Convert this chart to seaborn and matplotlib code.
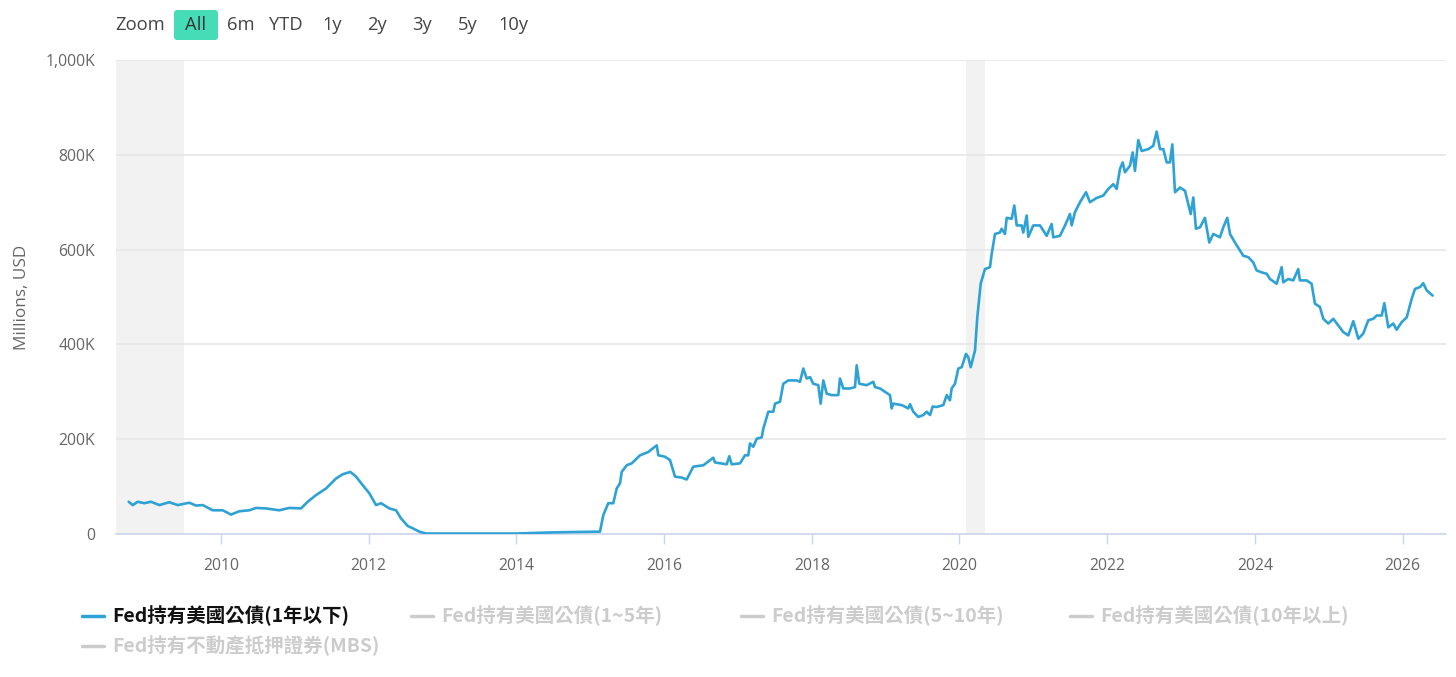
import numpy as np
import pandas as pd
import matplotlib
matplotlib.use("Agg")
import matplotlib.pyplot as plt
import seaborn as sns
from matplotlib.transforms import IdentityTransform
from matplotlib.patches import FancyBboxPatch
from matplotlib.lines import Line2D

# ---------------- data ----------------
years = [
    2008.750, 2008.804, 2008.872, 2008.961, 2009.052, 2009.165, 2009.300, 2009.414,
    2009.571, 2009.661, 2009.752, 2009.888, 2010.023, 2010.135, 2010.248, 2010.383,
    2010.474, 2010.609, 2010.789, 2010.925, 2011.083, 2011.174, 2011.286, 2011.422,
    2011.557, 2011.648, 2011.751, 2011.828, 2011.919, 2012.008, 2012.099, 2012.167,
    2012.279, 2012.370, 2012.437, 2012.528, 2012.596, 2012.685, 2012.776,
    2013.000, 2013.500, 2014.000, 2014.400, 2014.700, 2015.105,
    2015.132, 2015.177, 2015.244, 2015.312, 2015.358, 2015.403, 2015.426, 2015.494,
    2015.561, 2015.674, 2015.786, 2015.900, 2015.922, 2016.012, 2016.080, 2016.148,
    2016.238, 2016.306, 2016.395, 2016.531, 2016.666, 2016.689, 2016.848, 2016.883,
    2016.915, 2017.028, 2017.095, 2017.140, 2017.163, 2017.208, 2017.254, 2017.322,
    2017.343, 2017.411, 2017.479, 2017.502, 2017.569, 2017.614, 2017.682, 2017.795,
    2017.840, 2017.885, 2017.931, 2017.976, 2018.020, 2018.088, 2018.120, 2018.156,
    2018.202, 2018.270, 2018.359, 2018.382, 2018.427, 2018.517, 2018.585, 2018.608,
    2018.643, 2018.743, 2018.833, 2018.856, 2018.924, 2018.991, 2019.059, 2019.082,
    2019.103, 2019.217, 2019.307, 2019.330, 2019.374, 2019.442, 2019.510, 2019.556,
    2019.601, 2019.637, 2019.691, 2019.781, 2019.827, 2019.871, 2019.894, 2019.939,
    2019.984, 2020.030, 2020.088, 2020.119, 2020.152, 2020.210, 2020.241, 2020.287,
    2020.345, 2020.413, 2020.436, 2020.481, 2020.548, 2020.571, 2020.616, 2020.639,
    2020.707, 2020.742, 2020.775, 2020.842, 2020.864, 2020.910, 2020.932, 2020.999,
    2021.090, 2021.181, 2021.248, 2021.270, 2021.361, 2021.429, 2021.496, 2021.519,
    2021.564, 2021.632, 2021.713, 2021.767, 2021.858, 2021.947, 2022.015, 2022.083,
    2022.128, 2022.173, 2022.210, 2022.241, 2022.309, 2022.345, 2022.376, 2022.421,
    2022.467, 2022.556, 2022.624, 2022.670, 2022.715, 2022.760, 2022.806, 2022.850,
    2022.882, 2022.918, 2022.986, 2023.054, 2023.098, 2023.131, 2023.166, 2023.202,
    2023.257, 2023.324, 2023.382, 2023.437, 2023.527, 2023.572, 2023.626, 2023.663,
    2023.730, 2023.798, 2023.843, 2023.911, 2023.978, 2024.024, 2024.092, 2024.160,
    2024.204, 2024.295, 2024.363, 2024.384, 2024.452, 2024.520, 2024.587, 2024.610,
    2024.701, 2024.768, 2024.813, 2024.881, 2024.926, 2024.994, 2025.062, 2025.129,
    2025.197, 2025.265, 2025.333, 2025.401, 2025.468, 2025.536, 2025.604, 2025.650,
    2025.718, 2025.753, 2025.807, 2025.874, 2025.920, 2025.988, 2026.056, 2026.123,
    2026.168, 2026.236, 2026.280, 2026.326, 2026.407,
]
values_k = [
    68, 61, 68, 65, 68, 61, 67, 61,
    66, 60, 61, 50, 50, 41, 48, 50,
    55, 54, 50, 55, 54, 68, 82, 96,
    117, 126, 131, 121, 103, 86, 61, 65,
    54, 50, 33, 17, 12, 5, 1,
    1, 1, 1, 3, 4, 5,
    5, 40, 65, 65, 96, 107, 131, 145,
    149, 166, 173, 187, 166, 163, 156, 121,
    119, 115, 142, 145, 161, 151, 147, 164,
    147, 149, 166, 166, 191, 184, 201, 204,
    222, 258, 258, 275, 279, 317, 324, 324,
    321, 349, 328, 331, 317, 314, 275, 324,
    296, 293, 293, 328, 307, 307, 310, 356,
    317, 314, 321, 310, 307, 300, 293, 265,
    275, 272, 265, 274, 258, 247, 251, 258,
    251, 269, 268, 272, 293, 282, 307, 317,
    349, 352, 380, 373, 352, 387, 457, 528,
    559, 563, 591, 633, 636, 644, 633, 667,
    665, 693, 651, 651, 636, 672, 627, 651,
    651, 629, 654, 626, 629, 651, 675, 651,
    679, 700, 721, 700, 709, 714, 728, 738,
    728, 770, 784, 763, 777, 805, 766, 831,
    808, 812, 819, 849, 812, 812, 784, 784,
    822, 721, 731, 724, 696, 675, 710, 644,
    647, 667, 615, 633, 626, 647, 667, 633,
    615, 598, 587, 584, 573, 556, 552, 549,
    538, 528, 563, 531, 538, 535, 559, 535,
    535, 528, 486, 479, 454, 444, 454, 440,
    426, 419, 449, 412, 423, 451, 454, 461,
    461, 487, 436, 444, 431, 447, 457, 496,
    517, 521, 529, 514, 503,
]
recession_start = [2008.578, 2020.088]
recession_end = [2009.499, 2020.345]

y_ticks = [0, 200, 400, 600, 800, 1000]
y_tick_labels = ["0", "200K", "400K", "600K", "800K", "1,000K"]
x_ticks = [2010, 2012, 2014, 2016, 2018, 2020, 2022, 2024, 2026]
x_tick_labels = [str(t) for t in x_ticks]

zoom_buttons = ["All", "6m", "YTD", "1y", "2y", "3y", "5y", "10y"]
series_names = [
    "Fed持有美國公債(1年以下)",
    "Fed持有美國公債(1~5年)",
    "Fed持有美國公債(5~10年)",
    "Fed持有美國公債(10年以上)",
    "Fed持有不動產抵押證券(MBS)",
]
y_label = "Millions, USD"

# ---------------- styling ----------------
LINE = "#2ea2d4"
GRID = "#e6e6e6"
TXT = "#666666"
W, H = 1456, 677

sns.set_theme(style="white")
plt.rcParams["font.family"] = ["Open Sans", "Noto Sans CJK TC", "DejaVu Sans"]

fig = plt.figure(figsize=(W / 100, H / 100), dpi=100)
fig.patch.set_facecolor("white")

L, R, T, B = 116, 1446, 60, 534
ax = fig.add_axes([L / W, 1 - B / H, (R - L) / W, (B - T) / H])

df = pd.DataFrame({"year": years, "value": values_k})

for s, e in zip(recession_start, recession_end):
    ax.axvspan(s, e, color="#f2f2f2", lw=0, zorder=0.2)

sns.lineplot(data=df, x="year", y="value", ax=ax, color=LINE, linewidth=1.9,
             estimator=None, zorder=3)

ax.set_xlim(2008.578, 2026.588)
ax.set_ylim(0, 1000)
ax.set_yticks(y_ticks)
ax.set_yticklabels(y_tick_labels)
ax.set_xticks(x_ticks)
ax.set_xticklabels(x_tick_labels)
ax.set_xlabel("")
ax.set_ylabel("")

ax.yaxis.grid(True, color=GRID, lw=1.2)
ax.xaxis.grid(False)
ax.set_axisbelow(True)
for sp in ["top", "left", "right"]:
    ax.spines[sp].set_visible(False)
ax.spines["bottom"].set_color("#ccd6eb")
ax.spines["bottom"].set_linewidth(1.2)

ax.tick_params(axis="x", length=7.2, width=1, color="#ccd6eb", pad=10,
               labelsize=11.3, labelcolor=TXT, bottom=True)
ax.tick_params(axis="y", length=0, pad=15, labelsize=11.3, labelcolor=TXT, left=True)

# y axis title
fig.text(22, H - 297, y_label, transform=IdentityTransform(), rotation=90,
         ha="center", va="center", fontsize=12.3, color=TXT)

# ---------------- range selector ----------------
ident = IdentityTransform()
fig.text(115, H - 25, "Zoom", transform=ident, ha="left", va="center",
         fontsize=13.2, color="#444444")
btn = FancyBboxPatch((174, H - 40), 44, 30, boxstyle="round,pad=0,rounding_size=3",
                     transform=ident, facecolor="#47dcb8", edgecolor="none")
fig.add_artist(btn)
btn_x = [196, 241, 286, 332, 377, 422, 468, 513]
for bx, lab in zip(btn_x, zoom_buttons):
    fig.text(bx, H - 25, lab, transform=ident, ha="center", va="center",
             fontsize=13.2, color="#333333" if lab == "All" else "#444444")

# ---------------- legend ----------------
leg_pos = [(82, 616), (411, 616), (741, 616), (1070, 616), (82, 646)]
for i, (name, (lx, ly)) in enumerate(zip(series_names, leg_pos)):
    col = LINE if i == 0 else "#cccccc"
    tcol = "#111111" if i == 0 else "#cccccc"
    fig.add_artist(Line2D([lx, lx + 22], [H - ly, H - ly], transform=ident,
                          color=col, lw=2.5))
    fig.text(lx + 30, H - ly, name, transform=ident, ha="left", va="center",
             fontsize=14, fontweight="bold", color=tcol,
             family=["Noto Sans CJK TC", "DejaVu Sans"])

fig.savefig("out.png", dpi=100, facecolor="white")
